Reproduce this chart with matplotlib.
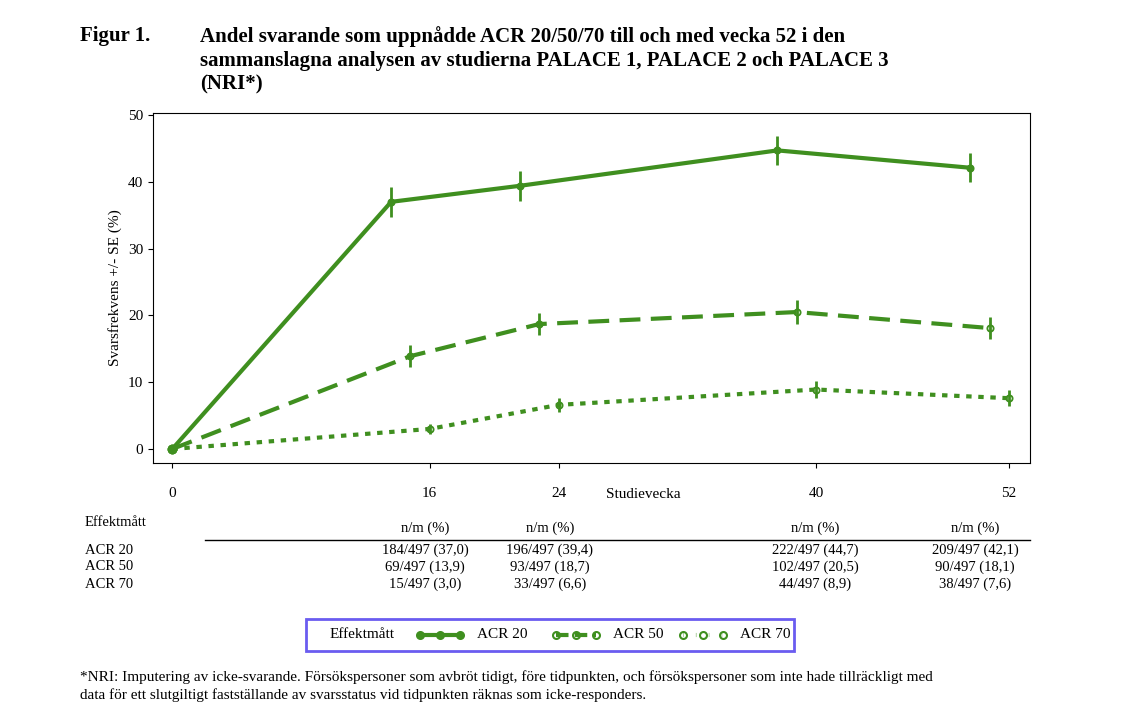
import matplotlib.pyplot as plt
from matplotlib.patches import FancyBboxPatch
from matplotlib.lines import Line2D

plt.rcParams['font.family'] = ['Liberation Serif', 'DejaVu Serif']

weeks = [0, 16, 24, 40, 52]
acr20 = [0, 37.0, 39.4, 44.7, 42.1]
acr50 = [0, 13.9, 18.7, 20.5, 18.1]
acr70 = [0, 3.0, 6.6, 8.9, 7.6]
se20 = [0, 2.2, 2.2, 2.2, 2.2]
se50 = [0, 1.6, 1.7, 1.8, 1.7]
se70 = [0, 0.8, 1.1, 1.3, 1.2]
table_rows = ["ACR 20", "ACR 50", "ACR 70"]
table_vals = [
    ["184/497 (37,0)", "196/497 (39,4)", "222/497 (44,7)", "209/497 (42,1)"],
    ["69/497 (13,9)", "93/497 (18,7)", "102/497 (20,5)", "90/497 (18,1)"],
    ["15/497 (3,0)", "33/497 (6,6)", "44/497 (8,9)", "38/497 (7,6)"],
]

green = '#3f8f1f'
fig = plt.figure(figsize=(11.26, 7.2), dpi=100)
ax = fig.add_axes([153/1126, 1-463/720, (1030-153)/1126, (463-113)/720])

series = [
    (acr20, se20, -2.4, '-', True),
    (acr50, se50, -1.2, (0, (5, 2.5)), False),
    (acr70, se70, 0.0, (0, (1.3, 1.6)), False),
]
for vals, se, off, ls, filled in series:
    xs = [w + (off if w > 0 else 0) for w in weeks]
    ax.plot(xs, vals, linestyle=ls, color=green, lw=3)
    ax.errorbar(xs[1:], vals[1:], yerr=se[1:], fmt='none', ecolor=green, elinewidth=2)
    ax.plot(xs[1:], vals[1:], linestyle='none', marker='o', ms=4.5,
            mfc=green if filled else 'none', mec=green, mew=1.3)
    ax.plot([0], [0], marker='o', ms=6, color=green)

ax.set_xlim(-1.2, 53.3)
ax.set_ylim(-2.1, 50.3)
ax.set_xticks(weeks)
ax.set_yticks([0, 10, 20, 30, 40, 50])
ax.tick_params(labelsize=11)
ax.tick_params(axis='x', pad=14)
ax.set_ylabel("Svarsfrekvens +/- SE (%)", fontsize=11)
fig.text(0.5 + 80/1126, 1-495/720, "Studievecka", ha='center', va='center', fontsize=11)

fig.text(80/1126, 1-26/720, "Figur 1.", fontsize=15, weight='bold', va='top')
fig.text(200/1126, 1-26/720, "Andel svarande som uppnådde ACR 20/50/70 till och med vecka 52 i den\n"
         "sammanslagna analysen av studierna PALACE 1, PALACE 2 och PALACE 3\n(NRI*)",
         fontsize=15, weight='bold', va='top', linespacing=1.25)

# table
colx = [425, 550, 815, 975]
fig.text(85/1126, 1-522/720, "Effektmått", fontsize=10.5, va='center')
for cx in colx:
    fig.text(cx/1126, 1-528/720, "n/m (%)", fontsize=10.5, ha='center', va='center')
fig.add_artist(Line2D([205/1126, 1030/1126], [1-540/720]*2, color='black', lw=1))
for i, name in enumerate(table_rows):
    y = 1-(550+17*i)/720
    fig.text(85/1126, y, name, fontsize=10.5, va='center')
    for cx, v in zip(colx, table_vals[i]):
        fig.text(cx/1126, y, v, fontsize=10.5, ha='center', va='center')

# legend box
fig.add_artist(FancyBboxPatch((306/1126, 1-651/720), 488/1126, 32/720, boxstyle='square,pad=0',
                              transform=fig.transFigure, fill=False, ec='#6a5cf0', lw=2))
ly = 1-635/720
fig.text(330/1126, ly, "Effektmått", fontsize=11, va='center')
leg = [(420, "ACR 20", '-', True), (556, "ACR 50", (0, (3, 1.5)), False), (683, "ACR 70", (0, (0.1, 3)), False)]
for x0, lab, ls, filled in leg:
    xs = [x0/1126, (x0+20)/1126, (x0+40)/1126]
    fig.add_artist(Line2D(xs, [ly]*3, color=green, lw=3, linestyle=ls, marker='o', ms=5,
                          mfc=green if filled else 'none', mec=green, mew=1.5))
    fig.text((x0+57)/1126, ly, lab, fontsize=11, va='center')

fig.text(80/1126, 1-686/720, "*NRI: Imputering av icke-svarande. Försökspersoner som avbröt tidigt, före tidpunkten, och försökspersoner som inte hade tillräckligt med\n"
         "data för ett slutgiltigt fastställande av svarsstatus vid tidpunkten räknas som icke-responders.",
         fontsize=11, va='center', linespacing=1.4)

fig.savefig("out.png", dpi=100)
